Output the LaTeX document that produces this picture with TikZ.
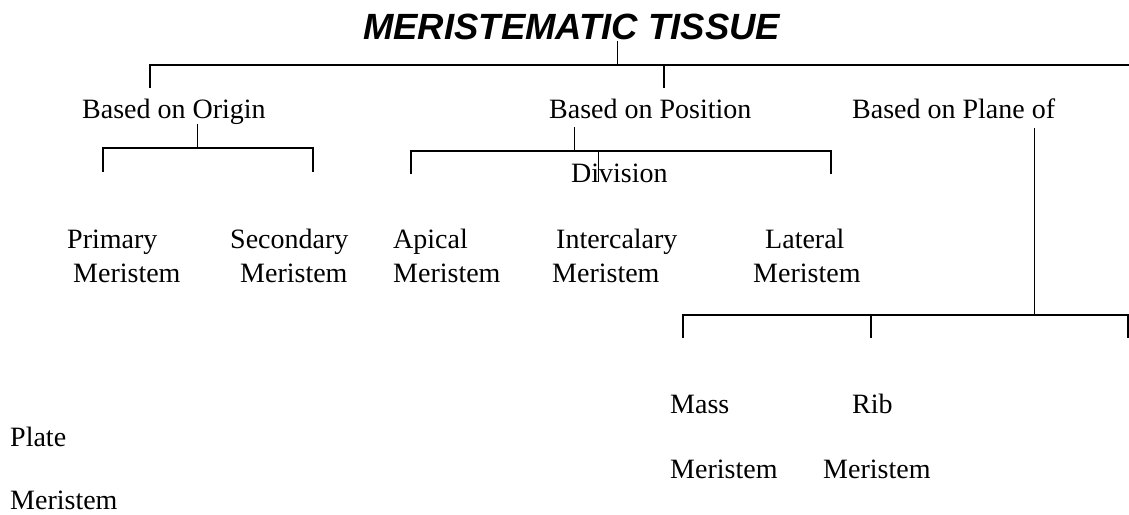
\documentclass[tikz,border=0pt]{standalone}
\usepackage{fontspec}
\setmainfont{Liberation Serif}
\setsansfont{Liberation Sans}
\newcommand\lblfont{\fontsize{28}{34}\selectfont}
\newcommand\ttlfont{\fontsize{36.5}{40}\selectfont\sffamily\bfseries\itshape}
\begin{document}
\begin{tikzpicture}[x=1pt,y=-1pt,
  lbl/.style={inner sep=0pt, anchor=base west, font=\lblfont},
  bar/.style={line width=1.8pt, line join=miter},
  stem/.style={line width=1pt}]
\useasboundingbox (0,0) rectangle (1129,514);

% heading
\node[inner sep=0pt, anchor=base west, font=\ttlfont] (title) at (363,39) {MERISTEMATIC TISSUE};

% first level
\node[lbl] (origin)   at (82,118)  {Based on Origin};
\node[lbl] (position) at (549,118) {Based on Position};
\node[lbl] (plane)    at (852,118) {Based on Plane of};
\node[lbl] (division) at (571,182) {Division};

% second level
\node[lbl] (primary)    at (67,248)  {Primary};
\node[lbl] (primarym)   at (73,282)  {Meristem};
\node[lbl] (secondary)  at (230,248) {Secondary};
\node[lbl] (secondarym) at (240,282) {Meristem};
\node[lbl] (apical)     at (393,248) {Apical};
\node[lbl] (apicalm)    at (393,282) {Meristem};
\node[lbl] (intercal)   at (556,248) {Intercalary};
\node[lbl] (intercalm)  at (552,282) {Meristem};
\node[lbl] (lateral)    at (765,248) {Lateral};
\node[lbl] (lateralm)   at (753,282) {Meristem};
\node[lbl] (mass)       at (670,413) {Mass};
\node[lbl] (massm)      at (670,478) {Meristem};
\node[lbl] (rib)        at (852,413) {Rib};
\node[lbl] (ribm)       at (823,478) {Meristem};
\node[lbl] (plate)      at (10,446)  {Plate};
\node[lbl] (platem)     at (10,509)  {Meristem};

% junction points
\coordinate (j0) at (617,65);
\coordinate (jend) at (1129,65);
\coordinate (d1) at (150,88);
\coordinate (d2) at (664,88);
\coordinate (j1) at (197,148);
\coordinate (j2) at (574,151);
\coordinate (j3) at (1034,315);

% top bracket
\draw[stem] (617,41) -- (j0);
\draw[bar] (d1) |- (jend);
\draw[bar] (d2) -- (d2 |- j0);

% origin bracket
\draw[stem] (197,124) -- (j1);
\draw[bar] (103,172) -- (103,148) -- (313,148) -- (313,172);

% position bracket
\draw[stem] (574,127) -- (j2);
\draw[bar] (411,174) -- (411,151) -- (831,151) -- (831,174);
\draw[stem] (598,151) -- (598,182);

% plane bracket
\draw[stem] (1034,128) -- (j3);
\draw[bar] (683,338) -- (683,315) -- (1128,315) -- (1128,338);
\draw[bar] (871,315) -- (871,338);
\end{tikzpicture}
\end{document}
